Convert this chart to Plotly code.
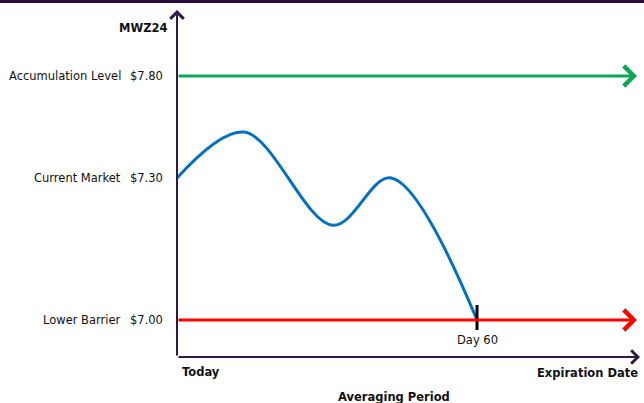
import numpy as np
import plotly.graph_objects as go

# Price levels of the MWZ24 accumulator
level_names = ["Accumulation Level", "Current Market", "Lower Barrier"]
level_prices = [7.80, 7.30, 7.00]

# Simulated market path over the averaging period (day, price)
path_days = [0, 13.4, 31.2, 42.8, 60]
path_prices = [7.30, 7.525, 7.20, 7.30, 7.00]

knockout_day = 60
expiration_day = 92

# Schematic (non-linear) vertical scale: price -> drawing height
scale_prices = [7.00, 7.30, 7.80]
scale_heights = [0, 142, 244]


def h(p):
    return np.interp(p, scale_prices, scale_heights)


FONT = "DejaVu Sans"
AXIS_COL = "#2e1a45"
GREEN = "#0fa556"
RED = "#ff0000"
BLUE = "#0070c0"

x0, x1 = -35.4, 93.4
y0, y1 = -83, 320
axis_y = -37

fig = go.Figure()

# market path
fig.add_trace(go.Scatter(
    x=path_days, y=h(np.array(path_prices)), mode="lines",
    line=dict(color=BLUE, width=3, shape="spline", smoothing=1.0),
    hoverinfo="skip", showlegend=False,
))

ann = []
# accumulation and barrier lines with arrowheads
for p, col in [(level_prices[0], GREEN), (level_prices[2], RED)]:
    ann.append(dict(x=expiration_day, y=float(h(p)), ax=0, ay=float(h(p)),
                    xref="x", yref="y", axref="x", ayref="y", showarrow=True,
                    arrowhead=4, arrowsize=1.3, arrowwidth=3, arrowcolor=col, text=""))

# axes with arrowheads
ann.append(dict(x=0, y=310, ax=0, ay=axis_y, xref="x", yref="y", axref="x", ayref="y",
                showarrow=True, arrowhead=4, arrowsize=1.3, arrowwidth=2,
                arrowcolor=AXIS_COL, text=""))
ann.append(dict(x=92.6, y=axis_y, ax=0, ay=axis_y, xref="x", yref="y", axref="x", ayref="y",
                showarrow=True, arrowhead=4, arrowsize=1.3, arrowwidth=2,
                arrowcolor=AXIS_COL, text=""))

# level labels
for name, p in zip(level_names, level_prices):
    yy = float(h(p))
    ann.append(dict(x=-10.8, y=yy, xref="x", yref="y", text=name, showarrow=False,
                    xanchor="right", yanchor="middle",
                    font=dict(family=FONT, size=11.5, color="#111")))
    ann.append(dict(x=-2.4, y=yy, xref="x", yref="y", text=f"${p:.2f}", showarrow=False,
                    xanchor="right", yanchor="middle",
                    font=dict(family=FONT, size=11.5, color="#111")))

ann.append(dict(x=-1.6, y=292, xref="x", yref="y", text="<b>MWZ24</b>", showarrow=False,
                xanchor="right", yanchor="middle", font=dict(family=FONT, size=11.5, color="#111")))
ann.append(dict(x=0.6, y=-52, xref="x", yref="y", text="<b>Today</b>", showarrow=False,
                xanchor="left", yanchor="middle", font=dict(family=FONT, size=11.5, color="#111")))
ann.append(dict(x=expiration_day + 0.6, y=-53, xref="x", yref="y", text="<b>Expiration Date</b>",
                showarrow=False, xanchor="right", yanchor="middle",
                font=dict(family=FONT, size=11.5, color="#111")))
ann.append(dict(x=(x0 + x1) / 2 + 14.4, y=-77, xref="x", yref="y", text="<b>Averaging Period</b>",
                showarrow=False, xanchor="center", yanchor="middle",
                font=dict(family=FONT, size=11.5, color="#111")))
ann.append(dict(x=knockout_day, y=-20, xref="x", yref="y", text="Day 60", showarrow=False,
                xanchor="center", yanchor="middle", font=dict(family=FONT, size=11.5, color="#111")))

shapes = [
    # knock-out tick on the barrier
    dict(type="line", x0=knockout_day, x1=knockout_day, y0=-10, y1=15,
         xref="x", yref="y", line=dict(color="#000", width=3)),
    # top band
    dict(type="rect", x0=0, x1=1, y0=400, y1=403, xref="paper", yref="paper",
         yanchor=0, ysizemode="pixel", fillcolor="#2d0a3c", line_width=0),
]

fig.update_layout(
    width=644, height=403, margin=dict(l=0, r=0, t=0, b=0),
    paper_bgcolor="white", plot_bgcolor="white",
    xaxis=dict(range=[x0, x1], visible=False, fixedrange=True),
    yaxis=dict(range=[y0, y1], visible=False, fixedrange=True),
    annotations=ann, shapes=shapes, showlegend=False,
)

fig.write_html("out.html")
